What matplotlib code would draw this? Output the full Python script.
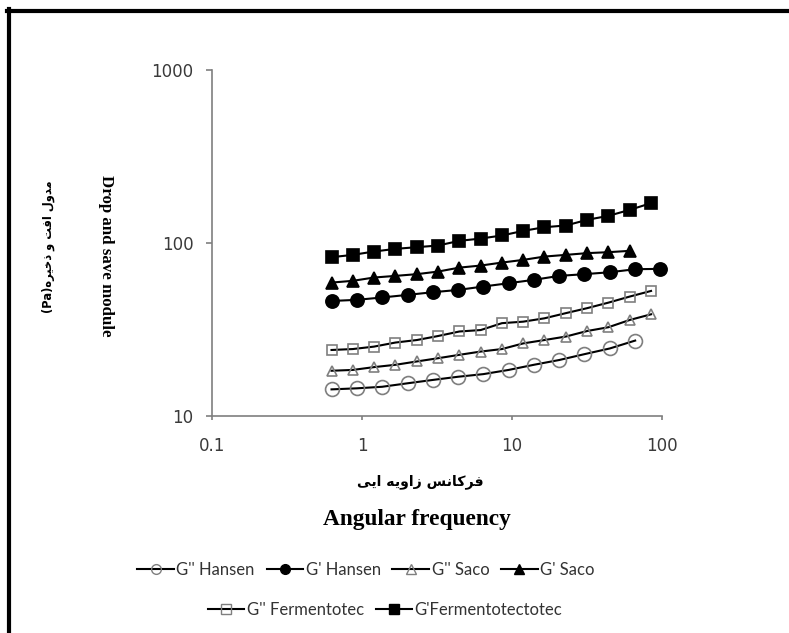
import matplotlib
matplotlib.use("Agg")
import matplotlib.pyplot as plt
from matplotlib.lines import Line2D

# ---------------- data ----------------
freq_16 = [0.625, 0.867, 1.20, 1.67, 2.32, 3.21, 4.46, 6.19, 8.58, 11.9,
           16.5, 22.9, 31.8, 44.1, 61.2, 84.9]
freq_15 = freq_16[:15]
freq_14 = [0.625, 0.922, 1.36, 2.01, 2.96, 4.37, 6.45, 9.51, 14.0, 20.7,
           30.5, 45.1, 66.5, 98.1]
freq_13 = freq_14[:13]

g2_hansen = [14.2, 14.4, 14.7, 15.4, 16.1, 16.8, 17.4, 18.4, 19.7, 21.0,
             22.7, 24.5, 27.2]
g1_hansen = [46.1, 46.8, 48.3, 50.0, 51.8, 53.4, 55.9, 58.4, 61.1, 64.4,
             65.9, 67.6, 70.4, 70.7]
g2_saco = [18.2, 18.4, 19.1, 19.7, 20.6, 21.5, 22.5, 23.5, 24.3, 26.2,
           27.4, 28.7, 30.9, 32.5, 35.8, 38.6]
g1_saco = [58.9, 60.3, 63.0, 64.4, 65.9, 68.2, 71.9, 73.9, 76.9, 79.7,
           83.3, 85.2, 87.2, 88.3, 89.9]
g2_ferm = [24.0, 24.3, 25.1, 26.5, 27.4, 28.9, 30.7, 31.3, 34.3, 35.0,
           36.6, 39.2, 41.9, 45.1, 48.9, 52.7]
g1_ferm = [82.6, 85.2, 89.1, 92.3, 94.4, 96.5, 102.7, 105.9, 110.3, 117.3,
           123.2, 126.0, 135.9, 143.3, 155.2, 169.7]

labels = ["G'' Hansen", "G' Hansen", "G'' Saco", "G' Saco",
          "G'' Fermentotec", "G'Fermentotectotec"]

x_ticks = [0.1, 1, 10, 100]
x_ticklabels = ["0.1", "1", "10", "100"]
y_ticks = [10, 100, 1000]
y_ticklabels = ["10", "100", "1000"]

# Persian labels in visual (presentation-form) order
fa_ylabel = ("(Pa)" + "\uFEE9\uFEAE\uFBFF\uFEA7\uFEAB" + " " + "\uFEED" + " "
             + "\uFE96\uFED3\uFE8D" + " " + "\uFEDD\uFEED\uFEAA\uFEE3")
fa_xlabel = ("\uFBFD\uFBFE\uFE8D" + " " + "\uFEEA\uFBFE\uFEED\uFE8D\uFEAF" + " "
             + "\uFEB2\uFEE7\uFE8E\uFB90\uFEAE\uFED3")
en_ylabel = "Drop and save module"
en_xlabel = "Angular frequency"

# ---------------- figure ----------------
W, H = 789, 633
fig = plt.figure(figsize=(W / 100, H / 100), dpi=100)
ax = fig.add_axes([212.3 / W, 1 - 415.7 / H, (661.7 - 212.3) / W, (415.7 - 70) / H])

gray = "#7f7f7f"
series = [
    (freq_13, g2_hansen, "o", "none", gray, 10),
    (freq_14, g1_hansen, "o", "black", "black", 9.5),
    (freq_16, g2_saco, "^", "none", gray, 7.5),
    (freq_15, g1_saco, "^", "black", "black", 9),
    (freq_16, g2_ferm, "s", "none", gray, 7.5),
    (freq_16, g1_ferm, "s", "black", "black", 9),
]
handles = []
for (x, y, m, fc, ec, ms), lab in zip(series, labels):
    h, = ax.plot(x, y, color="black", lw=1.5, marker=m, markerfacecolor=fc,
                 markeredgecolor=ec, markersize=ms, markeredgewidth=1.2,
                 label=lab, clip_on=False)
    handles.append(h)

ax.set_xscale("log")
ax.set_yscale("log")
ax.set_xlim(0.1, 100)
ax.set_ylim(10, 1000)
ax.set_xticks(x_ticks)
ax.set_xticklabels(x_ticklabels)
ax.set_yticks(y_ticks)
ax.set_yticklabels(y_ticklabels)
ax.minorticks_off()
for s in ["top", "right"]:
    ax.spines[s].set_visible(False)
for s in ["left", "bottom"]:
    ax.spines[s].set_color(gray)
    ax.spines[s].set_linewidth(1.2)
ax.tick_params(axis="y", length=4.5, width=1.2, color=gray, pad=9,
               labelsize=12, labelcolor="#3a3a3a")
ax.tick_params(axis="x", length=3.2, width=1.2, color=gray, pad=12,
               labelsize=12, labelcolor="#3a3a3a")

# axis labels as figure text
fig.text(106 / W, 1 - 256 / H, en_ylabel, rotation=-90, ha="center", va="center",
         family="Liberation Serif", fontweight="bold", fontsize=12.2)
fig.text(48 / W, 1 - 247 / H, fa_ylabel, rotation=90, ha="center", va="center",
         family=["DejaVu Sans"], fontweight="bold", fontsize=8.3)
fig.text(420 / W, 1 - 482 / H, fa_xlabel, ha="center", va="center",
         family=["DejaVu Sans"], fontweight="bold", fontsize=10.2)
fig.text(416.5 / W, 1 - 520 / H, en_xlabel, ha="center", va="center",
         family="Liberation Serif", fontweight="bold", fontsize=16.8)

# legends (two centred rows)
def leg_handle(h):
    return Line2D([], [], color="black", lw=1.5, marker=h.get_marker(),
                  markerfacecolor=h.get_markerfacecolor(),
                  markeredgecolor=h.get_markeredgecolor(),
                  markersize=7, markeredgewidth=1.0)

leg_props = dict(frameon=False, handlelength=2.2, handletextpad=0.15,
                 columnspacing=0.7, borderpad=0, labelcolor="#333333",
                 prop={"family": "Lato", "size": 12})
leg1 = fig.legend([leg_handle(h) for h in handles[:4]], labels[:4], ncol=4,
                  loc="center", bbox_to_anchor=(366 / W, 1 - 570 / H), **leg_props)
leg2 = fig.legend([leg_handle(h) for h in handles[4:]], labels[4:], ncol=2,
                  loc="center", bbox_to_anchor=(385 / W, 1 - 610 / H), **leg_props)

# outer frame (top and left black rules)
fig.add_artist(Line2D([7 / W, 1.0], [1 - 11 / H, 1 - 11 / H], color="black", lw=3,
                      transform=fig.transFigure))
fig.add_artist(Line2D([9.2 / W, 9.2 / W], [0, 1 - 9 / H], color="black", lw=3,
                      transform=fig.transFigure))

fig.savefig("out.png", dpi=100)
